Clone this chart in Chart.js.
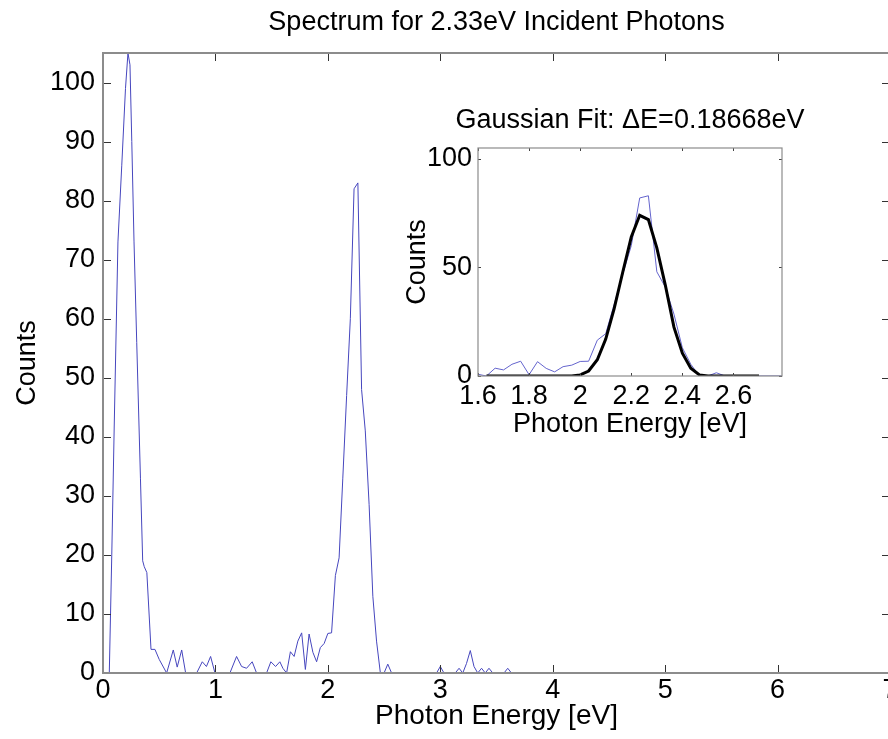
<!DOCTYPE html>
<html><head><meta charset="utf-8">
<script src="https://cdn.jsdelivr.net/npm/chart.js@4.4.0/dist/chart.umd.min.js"></script>
<style>
html,body{margin:0;padding:0;background:#fff;overflow:hidden;width:888px;height:739px;}
#wrap{position:relative;width:888px;height:739px;overflow:hidden;background:#fff;}
#main{position:absolute;left:0;top:0;}
#inset{position:absolute;left:395px;top:95px;}
</style></head><body>
<div id="wrap">
<canvas id="main" width="900" height="739" style="width:900px;height:739px"></canvas>
<canvas id="inset" width="470" height="355" style="width:470px;height:355px"></canvas>
</div>
<script>
// Measured spectrum (photon energy in eV, counts)
const energy = [0.000,0.056,0.078,0.100,0.133,0.167,0.200,0.222,0.240,0.256,0.276,0.300,0.333,0.353,0.367,0.390,0.427,0.462,0.500,0.566,
  0.625,0.660,0.700,0.735,0.833,0.883,0.920,0.957,0.996,1.129,1.188,1.233,1.277,1.327,1.366,1.455,1.493,1.535,1.573,1.600,1.633,
  1.667,1.700,1.733,1.767,1.800,1.833,1.867,1.900,1.933,1.967,2.000,2.033,2.067,2.100,2.133,2.167,2.200,2.233,2.267,2.300,
  2.333,2.367,2.400,2.433,2.467,2.500,2.533,2.567,2.967,3.000,3.033,3.133,3.167,3.200,3.233,3.267,3.300,3.333,3.367,3.400,
  3.433,3.467,3.567,3.600,3.633];
const counts = [0,0,20,42,73,86,99,105,103,90,73,56,33,19,18,17,4,4,2.3,0,
  3.9,1,3.9,0,0,1.9,1.1,2.8,0,0,2.8,1.1,0.8,1.9,0,0,1.9,1.1,1.9,0.8,0,
  3.6,2.8,5.4,6.8,0.6,6.6,3.5,1.9,4.3,5.0,6.7,6.8,16.5,19.5,33,47,60,82,83,48,
  41,28.5,13,5.4,0,0,1.5,0,0,1.1,0,0,0.8,0,1.6,3.8,1.1,0,0.8,0,
  0.8,0,0,0.8,0];
// Gaussian fit curve (inset)
const fitEnergy = [1.633,1.667,1.700,1.733,1.767,1.800,1.833,1.867,1.900,1.933,1.967,2.000,2.033,2.067,2.100,2.133,2.167,
  2.200,2.233,2.267,2.300,2.333,2.367,2.400,2.433,2.467,2.500,2.533,2.567,2.600,2.633,2.667,2.700];
const fitCounts = [0,0,0,0,0,0,0,0,0,0,0,0.5,2.3,7.5,17,31,48,64,74,72,59,42,22.5,10.5,3.6,0.5,0,0,0,0,0,0,0];
// Ticks
const mainXTicks = [0,1,2,3,4,5,6,7];
const mainYTicks = [0,10,20,30,40,50,60,70,80,90,100];
const insetXTicks = [1.6,1.8,2.0,2.2,2.4,2.6];
const insetXTickLabels = ['1.6','1.8','2','2.2','2.4','2.6'];
const insetYTicks = [0,50,100];
const insetYTickLabels = ['0','50','100'];

const FF = '"Liberation Sans", Arial, Helvetica, sans-serif';
const F = (s) => ({family: FF, size: s, weight: 'normal', lineHeight: 1.2});

const boxTicks = {
  id: 'boxTicks',
  afterDatasetsDraw(chart, args, o) {
    const {ctx, chartArea: a, scales: {x, y}} = chart;
    ctx.save();
    ctx.strokeStyle = o.tickColor; ctx.lineWidth = 1;
    ctx.beginPath();
    x.ticks.forEach(t => {
      const px = Math.round(x.getPixelForValue(t.value)) + 0.5;
      ctx.moveTo(px, a.bottom); ctx.lineTo(px, a.bottom - o.len);
      ctx.moveTo(px, a.top); ctx.lineTo(px, a.top + o.len);
    });
    y.ticks.forEach(t => {
      const py = Math.round(y.getPixelForValue(t.value)) + 0.5;
      ctx.moveTo(a.left, py); ctx.lineTo(a.left + o.len, py);
      ctx.moveTo(a.right, py); ctx.lineTo(a.right - o.len, py);
    });
    ctx.stroke();
    ctx.strokeStyle = o.boxColor; ctx.lineWidth = o.boxWidth;
    ctx.strokeRect(a.left, a.top, a.right - a.left, a.bottom - a.top);
    ctx.restore();
  }
};

function pts(xs, ys) { return xs.map((v, i) => ({x: v, y: ys[i]})); }

new Chart(document.getElementById('main'), {
  type: 'line',
  data: {datasets: [{
    data: pts(energy, counts), borderColor: 'rgb(70,70,190)', borderWidth: 1,
    pointRadius: 0, tension: 0, fill: false
  }]},
  options: {
    responsive: false, animation: false, events: [],
    layout: {padding: {left: 0, right: 10, top: 0, bottom: 0}},
    plugins: {
      legend: {display: false}, tooltip: {enabled: false},
      title: {display: true, text: 'Spectrum for 2.33eV Incident Photons', color: '#000', font: F(27),
        fullSize: false, padding: {top: 6.8, bottom: 13.8}},
      boxTicks: {len: 8, tickColor: '#333', boxColor: '#8c8c8c', boxWidth: 2}
    },
    scales: {
      x: {type: 'linear', min: 0, max: 7,
        grid: {display: false, drawTicks: false}, border: {display: false},
        afterBuildTicks: s => { s.ticks = mainXTicks.map(v => ({value: v})); },
        afterFit: s => { s.height = 66; s.paddingLeft = 0; s.paddingRight = 0; },
        ticks: {color: '#000', font: F(27), padding: 1, maxRotation: 0, autoSkip: false,
          callback: (v, i) => String(mainXTicks[i])},
        title: {display: true, text: 'Photon Energy [eV]', color: '#000', font: F(28), padding: {top: 0, bottom: 6.2}}
      },
      y: {type: 'linear', min: 0, max: 105,
        grid: {display: false, drawTicks: false}, border: {display: false},
        afterBuildTicks: s => { s.ticks = mainYTicks.map(v => ({value: v})); },
        afterFit: s => { s.width = 103; s.paddingTop = 0; s.paddingBottom = 0; },
        ticks: {color: '#000', font: F(27), padding: 8, autoSkip: false,
          callback: (v, i) => String(mainYTicks[i])},
        title: {display: true, text: 'Counts', color: '#000', font: F(27), padding: {top: 11, bottom: 0}}
      }
    }
  },
  plugins: [boxTicks]
});

new Chart(document.getElementById('inset'), {
  type: 'line',
  data: {datasets: [
    {data: pts(fitEnergy, fitCounts), borderColor: '#000', borderWidth: 3, pointRadius: 0, tension: 0, fill: false},
    {data: pts(energy, counts), borderColor: 'rgb(100,100,205)', borderWidth: 1, pointRadius: 0, tension: 0, fill: false}
  ]},
  options: {
    responsive: false, animation: false, events: [],
    layout: {padding: {left: 0, right: 0, top: 0, bottom: 0}},
    plugins: {
      legend: {display: false}, tooltip: {enabled: false},
      title: {display: true, text: 'Gaussian Fit: \u0394E=0.18668eV', color: '#000', font: F(27),
        fullSize: true, padding: {top: 9.8, bottom: 10.8}},
      boxTicks: {len: 3, tickColor: '#444', boxColor: '#8c8c8c', boxWidth: 1.2}
    },
    scales: {
      x: {type: 'linear', min: 1.6, max: 2.79,
        grid: {display: false, drawTicks: false}, border: {display: false},
        afterBuildTicks: s => { s.ticks = insetXTicks.map(v => ({value: v})); },
        afterFit: s => { s.height = 74; s.paddingLeft = 0; s.paddingRight = 0; },
        ticks: {color: '#000', font: F(27), padding: 4.8, maxRotation: 0, autoSkip: false,
          callback: (v, i) => insetXTickLabels[i]},
        title: {display: true, text: 'Photon Energy [eV]', color: '#000', font: F(27), padding: {top: 0, bottom: 8.8}}
      },
      y: {type: 'linear', min: 0, max: 105,
        grid: {display: false, drawTicks: false}, border: {display: false},
        afterBuildTicks: s => { s.ticks = insetYTicks.map(v => ({value: v})); },
        afterFit: s => { s.width = 83; s.paddingTop = 0; s.paddingBottom = 0; },
        ticks: {color: '#000', font: F(27), padding: 6, autoSkip: false,
          callback: (v, i) => insetYTickLabels[i]},
        title: {display: true, text: 'Counts', color: '#000', font: F(27), padding: {top: 6.8, bottom: 0}}
      },
      yRightSpace: {type: 'linear', position: 'right', min: 0, max: 105,
        grid: {display: false, drawTicks: false}, border: {display: false},
        ticks: {display: false}, title: {display: false},
        afterFit: s => { s.width = 83; s.paddingTop = 0; s.paddingBottom = 0; }
      }
    }
  },
  plugins: [boxTicks]
});
</script>
</body></html>
